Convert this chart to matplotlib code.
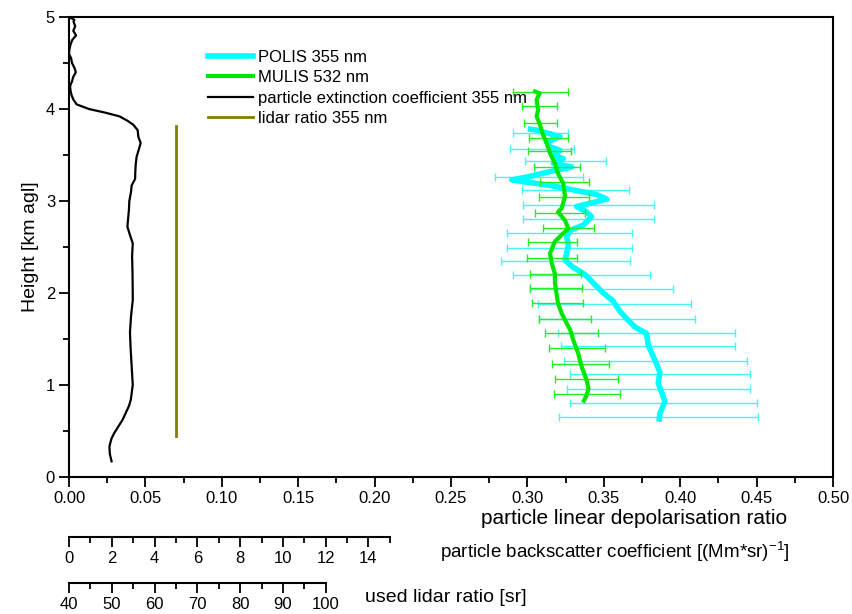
import numpy as np
import matplotlib
matplotlib.use('Agg')
import matplotlib.pyplot as plt
from matplotlib.ticker import MultipleLocator

plt.rcParams['font.family'] = ['Liberation Sans', 'DejaVu Sans']
plt.rcParams['mathtext.fontset'] = 'custom'
plt.rcParams['mathtext.rm'] = 'Liberation Sans'

# POLIS 355 nm depolarisation profile (height km, ratio)
polis_h = [3.78, 3.77, 3.73, 3.70, 3.64, 3.59, 3.55, 3.50, 3.46, 3.41, 3.37, 3.32, 3.26,
           3.23, 3.21, 3.17, 3.12, 3.07, 3.02, 2.975, 2.94, 2.88, 2.83, 2.74, 2.68, 2.61,
           2.52, 2.43, 2.36, 2.29, 2.20, 2.09, 2.00, 1.91, 1.80, 1.72, 1.63, 1.56, 1.43,
           1.31, 1.14, 1.02, 0.87, 0.82, 0.69, 0.63]
polis_d = [0.302, 0.306, 0.3148, 0.3213, 0.3126, 0.3148, 0.3213, 0.317, 0.3235, 0.317,
           0.329, 0.3148, 0.2995, 0.2897, 0.2973, 0.3148, 0.330, 0.3453, 0.352, 0.341,
           0.3322, 0.3388, 0.342, 0.3366, 0.328, 0.3257, 0.3268, 0.3257, 0.3246, 0.329,
           0.3377, 0.3442, 0.3497, 0.3562, 0.3606, 0.365, 0.3704, 0.378, 0.3791, 0.3824,
           0.3867, 0.3856, 0.389, 0.390, 0.3867, 0.3863]

# POLIS error bars
polis_eh = [3.735, 3.57, 3.43, 3.26, 3.12, 2.96, 2.80, 2.65, 2.49, 2.35, 2.20, 2.04, 1.88,
            1.72, 1.57, 1.42, 1.26, 1.12, 0.96, 0.80, 0.65]
polis_ed = [0.3083, 0.3095, 0.3249, 0.3075, 0.3315, 0.340, 0.340, 0.3274, 0.3277, 0.325,
            0.3353, 0.3485, 0.3568, 0.3585, 0.378, 0.379, 0.384, 0.3867, 0.386, 0.389, 0.386]
polis_err = [0.018, 0.021, 0.0265, 0.029, 0.035, 0.043, 0.043, 0.041, 0.041, 0.042,
             0.045, 0.047, 0.050, 0.051, 0.058, 0.057, 0.060, 0.059, 0.060, 0.061, 0.065]

# MULIS 532 nm depolarisation profile
mulis_h = [4.19, 4.17, 4.10, 3.99, 3.92, 3.84, 3.73, 3.63, 3.52, 3.41, 3.30, 3.19, 3.05,
           2.92, 2.88, 2.79, 2.70, 2.65, 2.56, 2.43, 2.32, 2.21, 2.11, 2.00, 1.89, 1.78,
           1.67, 1.60, 1.49, 1.34, 1.20, 1.05, 0.96, 0.89, 0.83]
mulis_d = [0.305, 0.308, 0.306, 0.307, 0.306, 0.308, 0.310, 0.3126, 0.3148, 0.318, 0.320,
           0.3235, 0.3246, 0.3224, 0.320, 0.3246, 0.3268, 0.3235, 0.318, 0.3148, 0.316,
           0.318, 0.318, 0.319, 0.320, 0.3224, 0.3257, 0.328, 0.330, 0.3333, 0.3355,
           0.3388, 0.340, 0.3388, 0.337]

# MULIS error bars
mulis_eh = [4.19, 4.03, 3.85, 3.69, 3.54, 3.37, 3.21, 3.04, 2.87, 2.71, 2.55, 2.38, 2.21,
            2.05, 1.89, 1.72, 1.56, 1.40, 1.23, 1.07, 0.90]
mulis_ed = [0.3085, 0.3077, 0.3083, 0.3138, 0.3145, 0.3192, 0.3241, 0.3242, 0.3214, 0.3271,
            0.3164, 0.3161, 0.3185, 0.3188, 0.3199, 0.3245, 0.329, 0.3326, 0.335, 0.3385,
            0.3392]
mulis_err = [0.018, 0.0115, 0.0108, 0.0126, 0.0139, 0.0149, 0.0159, 0.0164, 0.0164, 0.0167,
             0.0158, 0.0161, 0.0165, 0.0168, 0.0167, 0.017, 0.0175, 0.0183, 0.0187, 0.0205,
             0.0216]

# black profile, read against the backscatter scale
ext_h = [5.00, 4.97, 4.95, 4.90, 4.85, 4.80, 4.75, 4.70, 4.65, 4.60, 4.55, 4.50, 4.45, 4.40,
         4.35, 4.30, 4.25, 4.20, 4.15, 4.10, 4.05, 4.00, 3.96, 3.92, 3.87, 3.83, 3.77, 3.70,
         3.63, 3.55, 3.48, 3.40, 3.32, 3.24, 3.17, 3.10, 3.00, 2.90, 2.80, 2.72, 2.63, 2.54,
         2.40, 2.20, 2.00, 1.92, 1.75, 1.57, 1.40, 1.20, 1.00, 0.84, 0.77, 0.70, 0.62, 0.55,
         0.48, 0.42, 0.37, 0.33, 0.25, 0.17]
ext_v = [0.0, 0.25, 0.21, 0.29, 0.20, 0.33, 0.15, 0.07, 0.02, 0.0, 0.10, 0.14, 0.25, 0.32,
         0.20, 0.14, 0.05, 0.07, 0.12, 0.21, 0.36, 0.93, 1.70, 2.36, 2.75, 3.0, 3.21, 3.24,
         3.35, 3.25, 3.16, 3.12, 3.10, 3.09, 2.93, 2.90, 2.82, 2.80, 2.76, 2.73, 2.85, 2.98,
         2.95, 2.97, 2.98, 2.98, 2.90, 2.85, 2.88, 2.93, 2.98, 2.89, 2.80, 2.66, 2.50, 2.31,
         2.12, 1.99, 1.93, 1.89, 1.91, 1.99]

# lidar ratio used
lr_h = [0.45, 3.81]
lr_v = [65, 65]

fig = plt.figure(figsize=(8.52, 6.14), dpi=100)
ax = fig.add_axes([69 / 852, 137 / 614, 764 / 852, 460 / 614])

ax.errorbar(polis_ed, polis_eh, xerr=polis_err, fmt='none', ecolor='#40F8F8',
            elinewidth=1, capsize=3, capthick=1, zorder=2)
l1, = ax.plot(polis_d, polis_h, color='#00FFFF', lw=4, label='POLIS 355 nm', zorder=3)
ax.errorbar(mulis_ed, mulis_eh, xerr=mulis_err, fmt='none', ecolor='#22EE22',
            elinewidth=1, capsize=3, capthick=1, zorder=4)
l2, = ax.plot(mulis_d, mulis_h, color='#00E600', lw=3, label='MULIS 532 nm', zorder=5)

ax.set_xlim(0, 0.5)
ax.set_ylim(0, 5)
ax.xaxis.set_major_locator(MultipleLocator(0.05))
ax.xaxis.set_minor_locator(MultipleLocator(0.025))
ax.yaxis.set_major_locator(MultipleLocator(1))
ax.yaxis.set_minor_locator(MultipleLocator(0.5))
ax.xaxis.set_major_formatter(matplotlib.ticker.FormatStrFormatter('%.2f'))
ax.tick_params(which='major', length=7, width=1.3, labelsize=12, pad=3)
ax.tick_params(which='minor', length=4, width=1.3)
for s in ax.spines.values():
    s.set_linewidth(1.5)
ax.set_ylabel('Height [km agl]', fontsize=14, labelpad=5)

# backscatter scale below
axb = ax.twiny()
axb.set_xlim(0, 0.5 / 0.014)
axb.xaxis.set_ticks_position('bottom')
axb.spines['bottom'].set_position(('axes', -60 / 460))
axb.spines['bottom'].set_bounds(0, 15)
axb.spines['bottom'].set_linewidth(1.5)
for k in ['top', 'left', 'right']:
    axb.spines[k].set_visible(False)
axb.set_xticks(range(0, 15, 2))
axb.set_xticks(range(1, 16, 2), minor=True)
axb.tick_params(which='major', length=7, width=1.3, labelsize=12, pad=3)
axb.tick_params(which='minor', length=4, width=1.3)
l3, = axb.plot(ext_v, ext_h, color='black', lw=1.6,
               label='particle extinction coefficient 355 nm')

# lidar ratio scale below
axl = ax.twiny()
axl.set_xlim(40, 40 + 0.5 / 0.0028)
axl.xaxis.set_ticks_position('bottom')
axl.spines['bottom'].set_position(('axes', -106 / 460))
axl.spines['bottom'].set_bounds(40, 100)
axl.spines['bottom'].set_linewidth(1.5)
for k in ['top', 'left', 'right']:
    axl.spines[k].set_visible(False)
axl.set_xticks(range(40, 101, 10))
axl.set_xticks(range(45, 100, 10), minor=True)
axl.tick_params(which='major', length=7, width=1.3, labelsize=12, pad=3)
axl.tick_params(which='minor', length=4, width=1.3)
l4, = axl.plot(lr_v, lr_h, color='#808000', lw=2, label='lidar ratio 355 nm')

axl.legend(handles=[l1, l2, l3, l4], loc='upper left', bbox_to_anchor=(0.173, 0.943),
           frameon=False, fontsize=12, handlelength=2.7, handletextpad=0.3,
           labelspacing=0.32, borderaxespad=0)

fig.text(634 / 852, 1 - 519 / 614, 'particle linear depolarisation ratio',
         ha='center', va='center', fontsize=15)
fig.text(440 / 852, 1 - 552 / 614, 'particle backscatter coefficient [(Mm*sr)$^{-1}$]',
         ha='left', va='center', fontsize=13.5)
fig.text(365 / 852, 1 - 598 / 614, 'used lidar ratio [sr]',
         ha='left', va='center', fontsize=14)

fig.savefig('out.png', dpi=100)
